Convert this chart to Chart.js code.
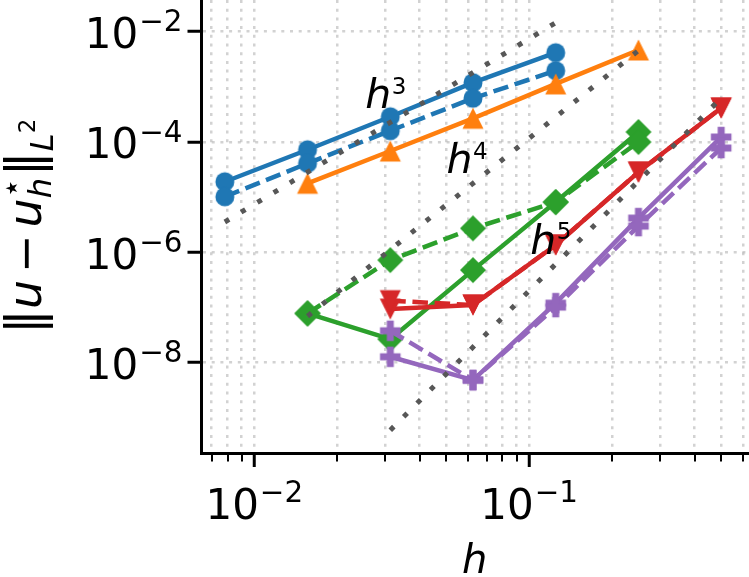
<!DOCTYPE html>
<html><head><meta charset="utf-8">
<script src="https://cdn.jsdelivr.net/npm/chart.js@4.4.0/dist/chart.umd.min.js"></script>
<style>html,body{margin:0;padding:0;background:#fff;}#wrap{width:749px;height:577px;}</style>
</head><body><div id="wrap"><canvas id="c" width="749" height="577"></canvas></div>
<script>
// ---- data ----
const hValues = [1/128, 1/64, 1/32, 1/16, 1/8, 1/4, 1/2];
const blueSolid    = [1.89e-5, 7.19e-5, 2.85e-4, 1.18e-3, 4.13e-3, null, null];
const blueDashed   = [1.01e-5, 4.07e-5, 1.59e-4, 6.15e-4, 1.95e-3, null, null];
const orangeSolid  = [null, 1.77e-5, 6.81e-5, 2.67e-4, 1.12e-3, 4.62e-3, null];
const greenSolid   = [null, 7.76e-8, 2.65e-8, 4.73e-7, 8.09e-6, 1.51e-4, null];
const greenDashed  = [null, 7.76e-8, 7.19e-7, 2.70e-6, 8.09e-6, 9.91e-5, null];
const redSolid     = [null, null, 9.29e-8, 1.10e-7, 1.35e-6, 2.83e-5, 4.10e-4];
const redDashed    = [null, null, 1.32e-7, 1.10e-7, 1.35e-6, 2.83e-5, 4.10e-4];
const purpleSolid  = [null, null, 1.27e-8, 4.80e-9, 1.19e-7, 4.15e-6, 1.22e-4];
const purpleDashed = [null, null, 3.76e-8, 4.80e-9, 1.01e-7, 2.97e-6, 7.72e-5];
const refH3 = [3.52e-6, null, null, null, 1.44e-2, null, null];
const refH4 = [null, 6.91e-8, null, null, null, 4.52e-3, null];
const refH5 = [null, null, 5.94e-10, null, null, null, 6.22e-4];

const xMajorTicks = [0.01, 0.1];
const xMinorTicks = [0.007, 0.008, 0.009, 0.02, 0.03, 0.04, 0.05, 0.06, 0.07, 0.08, 0.09, 0.2, 0.3, 0.4, 0.5, 0.6];
const xTickLabels = [['10', '\u22122'], ['10', '\u22121']];
const yMajorTicks = [1e-8, 1e-6, 1e-4, 1e-2];
const yTickLabels = [['10', '\u22128'], ['10', '\u22126'], ['10', '\u22124'], ['10', '\u22122']];
const xRange = [0.006425, 0.6261];
const yRange = [2.29e-10, 0.0372];
const annotations = [
  {base: 'h', sup: '3', x: 0.02533, y: 4.10e-4},
  {base: 'h', sup: '4', x: 0.0501, y: 2.72e-5},
  {base: 'h', sup: '5', x: 0.1009, y: 9.43e-7}
];

// ---- markers ----
function marker(shape, color) {
  const c = document.createElement('canvas');
  const S = 30; c.width = S; c.height = S;
  const g = c.getContext('2d'); g.fillStyle = color; g.translate(S/2, S/2);
  g.beginPath();
  if (shape === 'o') { g.arc(0, 0, 9.5, 0, Math.PI*2); }
  else if (shape === '^') { g.moveTo(0,-10.5); g.lineTo(10.5,10.5); g.lineTo(-10.5,10.5); g.closePath(); }
  else if (shape === 'v') { g.moveTo(0,10.5); g.lineTo(10.5,-10.5); g.lineTo(-10.5,-10.5); g.closePath(); }
  else if (shape === 'D') { g.moveTo(0,-13); g.lineTo(13,0); g.lineTo(0,13); g.lineTo(-13,0); g.closePath(); }
  else if (shape === 'P') {
    const a = 10.3, b = 3.5;
    g.moveTo(-b,-a); g.lineTo(b,-a); g.lineTo(b,-b); g.lineTo(a,-b); g.lineTo(a,b); g.lineTo(b,b);
    g.lineTo(b,a); g.lineTo(-b,a); g.lineTo(-b,b); g.lineTo(-a,b); g.lineTo(-a,-b); g.lineTo(-b,-b); g.closePath();
  }
  g.fill();
  return c;
}
const C = {blue:'#1f77b4', orange:'#ff7f0e', green:'#2ca02c', red:'#d62728', purple:'#9467bd'};
function pts(vals) { const o=[]; vals.forEach((v,i)=>{ if (v!==null) o.push({x:hValues[i], y:v}); }); return o; }
const DASH = [15.5, 6.7];
function series(vals, color, shape, dashed) {
  return {data: pts(vals), borderColor: color, backgroundColor: color, borderWidth: 4.5,
    borderDash: dashed ? DASH : [], borderCapStyle: dashed ? 'butt' : 'round', borderJoinStyle: 'round',
    pointStyle: marker(shape, color), pointRadius: 10, pointHoverRadius: 10, tension: 0, fill: false, clip: false};
}
function ref(vals) {
  return {data: pts(vals), borderColor: '#575757', borderWidth: 5, borderDash: [5, 14], borderCapStyle: 'butt',
    pointRadius: 0, pointHoverRadius: 0, tension: 0, fill: false, clip: false};
}
const datasets = [
  series(blueSolid, C.blue, 'o', false), series(blueDashed, C.blue, 'o', true),
  series(orangeSolid, C.orange, '^', false),
  series(greenSolid, C.green, 'D', false), series(greenDashed, C.green, 'D', true),
  series(redSolid, C.red, 'v', false), series(redDashed, C.red, 'v', true),
  series(purpleSolid, C.purple, 'P', false), series(purpleDashed, C.purple, 'P', true),
  ref(refH3), ref(refH4), ref(refH5)
];
datasets.forEach((d, i) => { d.order = datasets.length - i; });

const FONT = '"DejaVu Sans"';
const TF = 42;
function powLabel(ctx, parts, x, baseY, align) {
  ctx.font = TF + 'px ' + FONT; const w1 = ctx.measureText(parts[0]).width;
  ctx.font = (0.7*TF) + 'px ' + FONT; const w2 = ctx.measureText(parts[1]).width;
  const total = w1 + 1 + w2;
  const x0 = align === 'right' ? x - total : x - total/2;
  ctx.font = TF + 'px ' + FONT; ctx.fillText(parts[0], x0, baseY);
  ctx.font = (0.7*TF) + 'px ' + FONT; ctx.fillText(parts[1], x0 + w1 + 1, baseY - 0.4*TF);
}
const extras = {
  id: 'extras',
  afterDraw(chart) {
    const ctx = chart.ctx, xs = chart.scales.x, ys = chart.scales.y, area = chart.chartArea;
    // minor x ticks
    ctx.save(); ctx.strokeStyle = '#000'; ctx.lineWidth = 2;
    xMinorTicks.forEach(v => { const px = Math.round(xs.getPixelForValue(v)); ctx.beginPath(); ctx.moveTo(px, area.bottom); ctx.lineTo(px, area.bottom + 8.5); ctx.stroke(); });
    ctx.restore();
    // tick labels
    ctx.save(); ctx.fillStyle = '#000'; ctx.textBaseline = 'alphabetic'; ctx.textAlign = 'left';
    xMajorTicks.forEach((v, i) => powLabel(ctx, xTickLabels[i], xs.getPixelForValue(v), area.bottom + 66, 'center'));
    yMajorTicks.forEach((v, i) => powLabel(ctx, yTickLabels[i], area.left - 19, ys.getPixelForValue(v) + 16.5, 'right'));
    ctx.restore();
    // annotations
    ctx.save(); ctx.fillStyle = '#000'; ctx.textBaseline = 'alphabetic'; ctx.textAlign = 'left';
    annotations.forEach(a => {
      const px = xs.getPixelForValue(a.x), py = ys.getPixelForValue(a.y);
      ctx.font = 'italic 41px ' + FONT; ctx.fillText(a.base, px, py);
      const w = ctx.measureText(a.base).width;
      ctx.font = '23px ' + FONT; ctx.fillText(a.sup, px + w + 0.5, py - 14.5);
    });
    ctx.restore();
    // y axis title
    const F = 46;
    ctx.save(); ctx.fillStyle = '#000'; ctx.textBaseline = 'alphabetic'; ctx.textAlign = 'left';
    const pieces = [
      {t:'\u2016', f: (1.1*F)+'px '+FONT, dy:0},
      {t:'u', f: 'italic '+F+'px '+FONT, dy:0},
      {sp: 0.15*F},
      {t:'\u2212', f: F+'px '+FONT, dy:0},
      {sp: 0.15*F},
      {t:'u', f: 'italic '+F+'px '+FONT, dy:0},
      {stack: [{t:'h', f:'italic '+(0.7*F)+'px '+FONT, dy: 0.22*F}, {t:'\u22C6', f:(0.7*F)+'px '+FONT, dy: -0.42*F}]},
      {sp: 0.03*F},
      {t:'\u2016', f: (1.1*F)+'px '+FONT, dy:0},
      {t:'L', f: 'italic '+(0.7*F)+'px '+FONT, dy: 0.26*F},
      {t:'2', f: (0.5*F)+'px '+FONT, dy: -0.12*F}
    ];
    let total = 0;
    const widths = pieces.map(p => {
      let w;
      if (p.sp) w = p.sp;
      else if (p.stack) w = Math.max(...p.stack.map(s => { ctx.font = s.f; return ctx.measureText(s.t).width; }));
      else { ctx.font = p.f; w = ctx.measureText(p.t).width; }
      total += w; return w;
    });
    const cy = (area.top + area.bottom) / 2;
    ctx.translate(41, cy); ctx.rotate(-Math.PI/2);
    let cur = -total/2;
    pieces.forEach((p, i) => {
      if (p.stack) p.stack.forEach(s => { ctx.font = s.f; ctx.fillText(s.t, cur, s.dy); });
      else if (!p.sp) { ctx.font = p.f; ctx.fillText(p.t, cur, p.dy); }
      cur += widths[i];
    });
    ctx.restore();
  }
};

const gridDash = [3, 5.7];
new Chart(document.getElementById('c'), {
  type: 'line',
  data: {datasets},
  options: {
    responsive: false, animation: false, devicePixelRatio: 1,
    layout: {autoPadding: false, padding: {left: 0, right: 1, top: 0, bottom: 0}},
    plugins: {legend: {display: false}, tooltip: {enabled: false}},
    scales: {
      x: {
        type: 'logarithmic', min: xRange[0], max: xRange[1],
        afterBuildTicks: s => { s.ticks = xMinorTicks.concat(xMajorTicks).sort((a,b)=>a-b).map(v => ({value: v, major: xMajorTicks.includes(v)})); },
        afterFit: s => { s.height = 124; s.paddingLeft = 0; s.paddingRight = 0; },
        ticks: {display: false, autoSkip: false, maxRotation: 0, minRotation: 0},
        grid: {color: 'rgba(180,180,180,0.6)', lineWidth: 2.5, tickLength: 14, tickBorderDash: [],
          tickWidth: 3, tickColor: c => (c.tick && xMajorTicks.includes(c.tick.value)) ? '#000' : 'rgba(0,0,0,0)'},
        border: {display: true, color: '#000', width: 3, dash: gridDash},
        title: {display: true, text: 'h', color: '#000', font: {family: 'DejaVu Sans', size: 40, style: 'italic'}, padding: {top: 0, bottom: -10}}
      },
      y: {
        type: 'logarithmic', min: yRange[0], max: yRange[1],
        afterBuildTicks: s => { s.ticks = yMajorTicks.map(v => ({value: v, major: true})); },
        afterFit: s => { s.width = 201.5; s.paddingTop = 0; s.paddingBottom = 0; },
        ticks: {display: false, autoSkip: false},
        grid: {color: 'rgba(180,180,180,0.6)', lineWidth: 2.5, tickLength: 14, tickBorderDash: [], tickWidth: 3, tickColor: '#000'},
        border: {display: true, color: '#000', width: 3, dash: gridDash},
        title: {display: false}
      }
    }
  },
  plugins: [extras]
});
</script></body></html>
